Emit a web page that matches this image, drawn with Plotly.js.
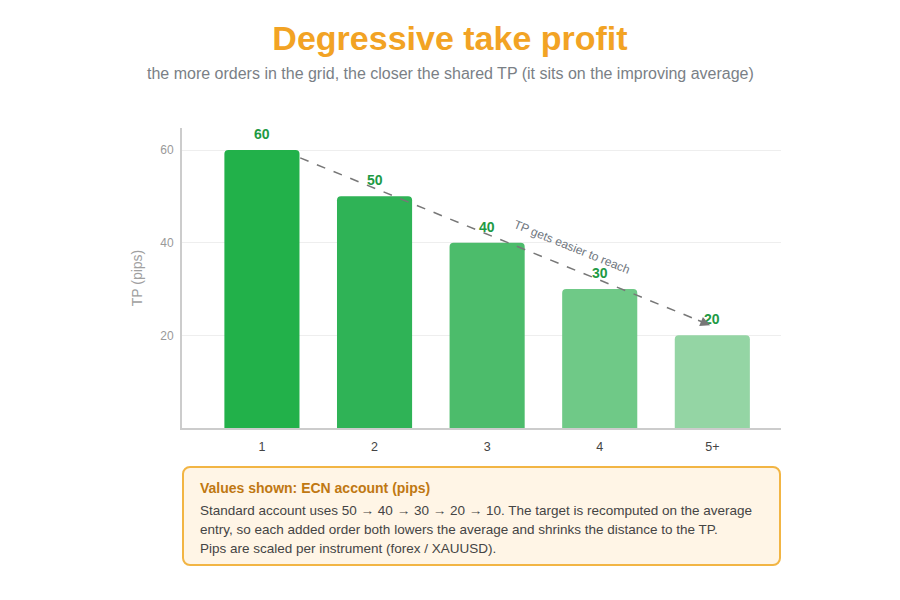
<!DOCTYPE html>
<html>
<head>
<meta charset="utf-8">
<script src="https://cdn.plot.ly/plotly-3.0.1.min.js"></script>
<style>
  html, body { margin: 0; padding: 0; background: #ffffff; }
  #wrap { position: relative; width: 900px; height: 600px; font-family: "Liberation Sans", Arial, sans-serif; }
  #chart { position: absolute; left: 0; top: 0; width: 900px; height: 600px; }
  #note {
    position: absolute; left: 182px; top: 466px; width: 563px; height: 68px;
    padding: 12px 16px 16px 16px;
    background: #fff5e6; border: 2px solid #f2b544; border-radius: 8px;
    color: #444; font-size: 13.5px; line-height: 19px;
  }
  #note .head { color: #c07812; font-weight: bold; font-size: 14px; margin-bottom: 5px; line-height: 16px; }
</style>
</head>
<body>
<div id="wrap">
  <div id="chart"></div>
  <div id="note">
    <div class="head">Values shown: ECN account (pips)</div>
    Standard account uses 50 → 40 → 30 → 20 → 10. The target is recomputed on the average entry, so each added order both lowers the average and shrinks the distance to the TP.<br>
    Pips are scaled per instrument (forex / XAUUSD).
  </div>
</div>
<script>
// Grid order count vs. shared take-profit distance (ECN account)
const orderLabels = ["1", "2", "3", "4", "5+"];
const tpPips = [60, 50, 40, 30, 20];
const barColors = ["#22b14a", "#2fb356", "#4cbc6b", "#6fc987", "#94d5a4"];
const yTicks = [20, 40, 60];

const idx = orderLabels.map((_, i) => i);

const trace = {
  type: "bar",
  x: idx,
  y: tpPips,
  width: 0.667,
  marker: { color: barColors, cornerradius: 4, line: { width: 0 } },
  hoverinfo: "skip"
};

// Value labels sit a little above each bar
const valueLabels = tpPips.map((v, i) => ({
  xref: "x", yref: "y", x: i, y: v,
  yanchor: "bottom", yshift: 6,
  text: "<b>" + v + "</b>",
  showarrow: false,
  font: { size: 14, color: "#1e9a44" }
}));

// Trend arrow: from top-right of the first bar toward the last label
const arrowFrom = { x: 0.34, y: 58.3 };
const arrowTo = { x: 3.98, y: 22.2 };

const layout = {
  width: 900, height: 600,
  margin: { l: 182, r: 119, t: 128, b: 172 },
  paper_bgcolor: "#ffffff",
  plot_bgcolor: "#ffffff",
  showlegend: false,
  font: { family: "Liberation Sans, Arial, sans-serif" },
  title: {
    text: "<b>Degressive take profit</b>",
    x: 0.5, xanchor: "center",
    y: 0.937, yanchor: "middle", yref: "container",
    font: { size: 34, color: "#f2a324" }
  },
  xaxis: {
    range: [-0.71, 4.61],
    tickmode: "array",
    tickvals: idx,
    ticktext: orderLabels,
    showgrid: false,
    zeroline: false,
    showline: true,
    linecolor: "#cccccc",
    linewidth: 2,
    ticks: "",
    ticklabelstandoff: 6,
    tickfont: { size: 12.5, color: "#444444" },
    fixedrange: true
  },
  yaxis: {
    range: [0, 64.75],
    tickmode: "array",
    tickvals: yTicks,
    showgrid: true,
    gridcolor: "#eeeeee",
    gridwidth: 1,
    zeroline: false,
    showline: true,
    linecolor: "#cccccc",
    linewidth: 2,
    ticks: "",
    ticklabelstandoff: 4,
    tickfont: { size: 12, color: "#999999" },
    title: { text: "TP (pips)", font: { size: 14, color: "#a0a0a0" }, standoff: 14 },
    fixedrange: true
  },
  shapes: [
    {
      type: "line", xref: "x", yref: "y",
      x0: arrowFrom.x, y0: arrowFrom.y, x1: arrowTo.x - 0.04, y1: arrowTo.y + 0.4,
      line: { color: "#777777", width: 1.5, dash: "dash" }
    }
  ],
  annotations: valueLabels.concat([
    {
      xref: "x", yref: "y", axref: "x", ayref: "y",
      x: arrowTo.x, y: arrowTo.y,
      ax: arrowTo.x - 0.12, ay: arrowTo.y + 1.2,
      showarrow: true, arrowhead: 2, arrowsize: 1.3, arrowwidth: 1.5,
      arrowcolor: "#777777", text: ""
    },
    {
      xref: "paper", yref: "paper",
      x: (572 - 182) / 599, y: (428 - 247) / 300,
      xanchor: "center", yanchor: "middle",
      text: "TP gets easier to reach",
      textangle: 22,
      showarrow: false,
      font: { size: 12, color: "#707780" }
    },
    {
      xref: "paper", yref: "paper",
      x: (450 - 182) / 599, y: (428 - 73) / 300,
      xanchor: "center", yanchor: "middle",
      text: "the more orders in the grid, the closer the shared TP (it sits on the improving average)",
      showarrow: false,
      font: { size: 16, color: "#7a7f86" }
    }
  ])
};

Plotly.newPlot("chart", [trace], layout, { displayModeBar: false, staticPlot: true });
</script>
</body>
</html>
